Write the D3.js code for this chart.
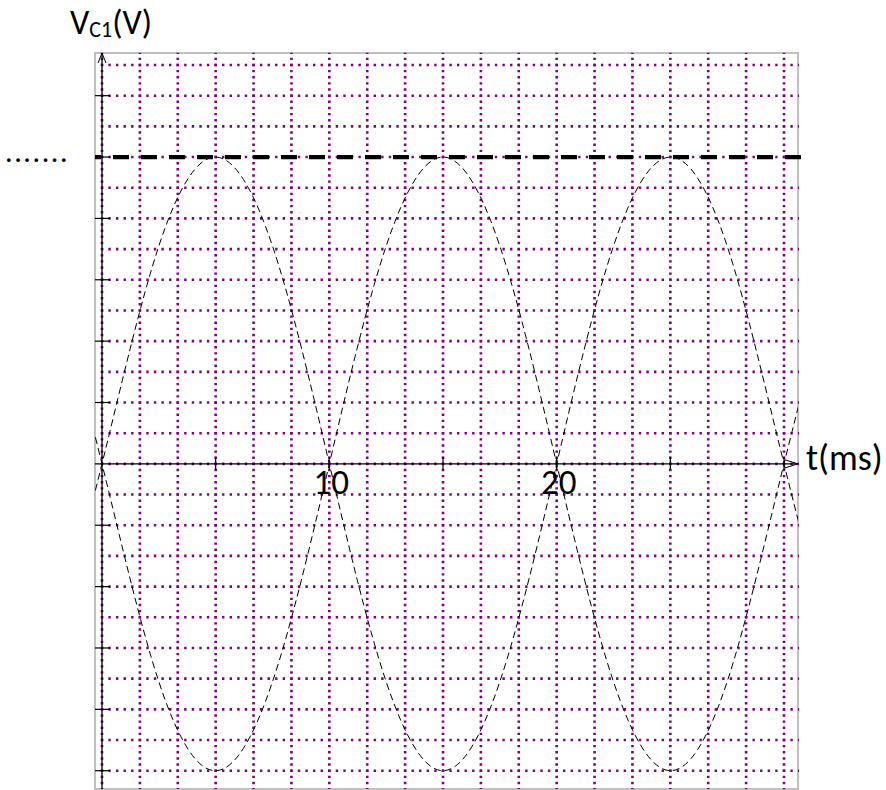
<!DOCTYPE html>
<html>
<head>
<meta charset="utf-8">
<script src="https://cdn.jsdelivr.net/npm/d3@7"></script>
<style>
    body { margin: 0; background: #fff; }
    svg { display: block; }
</style>
</head>
<body>
<div class="chartContainer"></div>
<script>
//Colors
var gridColor = "#800080";
var frameColor = "#c0c0c0";
var lineColor = "#000";

//Data (time in ms, voltage in grid units)
var timeMs = [-2.5, 0, 2.5, 5, 7.5, 10, 12.5, 15, 17.5, 20, 22.5, 25, 27.5, 30, 32.5];
var vRising = [-7.1, 0, 7.1, 10, 7.1, 0, -7.1, -10, -7.1, 0, 7.1, 10, 7.1, 0, -7.1];
var vFalling = [7.1, 0, -7.1, -10, -7.1, 0, 7.1, 10, 7.1, 0, -7.1, -10, -7.1, 0, 7.1];
var peakLevel = 10;
var xTickValues = [5, 10, 15, 20, 25, 30];
var xTickLabels = ["10", "20"];
var yTickValues = [-10, -8, -6, -4, -2, 2, 4, 6, 8, 10, 12];

var width = 886, height = 790;
var frame = { left: 95, right: 798, top: 53, bottom: 789 };

var x = d3.scaleLinear().domain([0, 30]).range([102, 784]);
var y = d3.scaleLinear().domain([-10, 13]).range([770.7, 65]);

var svg = d3.select(".chartContainer").append("svg")
    .attr("width", width)
    .attr("height", height);

svg.append("defs").append("clipPath").attr("id", "plotClip")
    .append("rect")
    .attr("x", frame.left).attr("y", frame.top)
    .attr("width", frame.right - frame.left)
    .attr("height", frame.bottom - frame.top);

//Frame
svg.append("rect")
    .attr("x", frame.left).attr("y", frame.top)
    .attr("width", frame.right - frame.left)
    .attr("height", frame.bottom - frame.top)
    .style("fill", "none")
    .style("stroke", frameColor)
    .style("stroke-width", 2);

//Dotted grid, five dots per cell
var cellX = x(10 / 6) - x(0);
var cellY = y(0) - y(1);
var xGrid = d3.range(0, 19).map((k) => k * 10 / 6);
var yGrid = d3.range(-10, 14);

svg.append("g").selectAll("line").data(xGrid).enter().append("line")
    .attr("x1", (d) => x(d)).attr("x2", (d) => x(d))
    .attr("y1", (d) => y(13) - 2 * cellY / 5)
    .attr("y2", frame.bottom)
    .style("stroke", gridColor)
    .style("stroke-width", 2.6)
    .style("stroke-dasharray", "2.4," + (cellY / 5 - 2.4))
    .style("stroke-dashoffset", 1.2);

svg.append("g").selectAll("line").data(yGrid).enter().append("line")
    .attr("y1", (d) => y(d)).attr("y2", (d) => y(d))
    .attr("x1", x(0))
    .attr("x2", frame.right + 1)
    .style("stroke", gridColor)
    .style("stroke-width", 2.6)
    .style("stroke-dasharray", "2.4," + (cellX / 5 - 2.4))
    .style("stroke-dashoffset", 1.2);

//Axes
svg.append("line")
    .attr("x1", frame.left).attr("x2", frame.right)
    .attr("y1", y(0)).attr("y2", y(0))
    .style("stroke", lineColor).style("stroke-width", 1.3);
svg.append("line")
    .attr("x1", x(0)).attr("x2", x(0))
    .attr("y1", frame.top).attr("y2", frame.bottom)
    .style("stroke", lineColor).style("stroke-width", 1.3);

//Arrow heads
svg.append("path")
    .attr("d", "M" + (frame.right - 13) + "," + (y(0) - 4) + "L" + frame.right + "," + y(0) + "L" + (frame.right - 13) + "," + (y(0) + 4))
    .style("fill", "none").style("stroke", lineColor).style("stroke-width", 1);
svg.append("path")
    .attr("d", "M" + (x(0) - 4) + "," + (frame.top + 10) + "L" + x(0) + "," + frame.top + "L" + (x(0) + 4) + "," + (frame.top + 10))
    .style("fill", "none").style("stroke", lineColor).style("stroke-width", 1);

//Ticks
svg.append("g").selectAll("line").data(xTickValues).enter().append("line")
    .attr("x1", (d) => x(d)).attr("x2", (d) => x(d))
    .attr("y1", y(0) - 7).attr("y2", y(0) + 6)
    .style("stroke", lineColor).style("stroke-width", 1.2);
svg.append("g").selectAll("line").data(yTickValues).enter().append("line")
    .attr("y1", (d) => y(d)).attr("y2", (d) => y(d))
    .attr("x1", x(0) - 7).attr("x2", x(0) + 8)
    .style("stroke", lineColor).style("stroke-width", 1.2);

//Sine curves
var line = d3.line()
    .x((d) => x(d[0]))
    .y((d) => y(d[1]))
    .curve(d3.curveNatural);

var curves = svg.append("g").attr("clip-path", "url(#plotClip)");
[vRising, vFalling].forEach((vals) => {
    curves.append("path")
        .datum(timeMs.map((t, i) => [t, vals[i]]))
        .attr("d", line)
        .style("fill", "none")
        .style("stroke", lineColor)
        .style("stroke-width", 1)
        .style("stroke-dasharray", "7,4");
});

//Peak level
svg.append("line")
    .attr("x1", frame.left).attr("x2", frame.right + 3)
    .attr("y1", y(peakLevel)).attr("y2", y(peakLevel))
    .style("stroke", lineColor)
    .style("stroke-width", 4.3)
    .style("stroke-dasharray", "16,12")
    .style("stroke-dashoffset", 10);

//Texts
var fontFamily = "Carlito, Calibri, Lato, sans-serif";

svg.selectAll(".xLabel").data(xTickLabels).enter().append("text")
    .attr("class", "xLabel")
    .text((d) => d)
    .attr("x", (d) => x(+d) + 2)
    .attr("y", 494)
    .attr("text-anchor", "middle")
    .attr("font-family", fontFamily)
    .attr("font-size", "35px")
    .attr("fill", lineColor);

svg.append("text")
    .text("t(ms)")
    .attr("x", 806)
    .attr("y", 470)
    .attr("font-family", fontFamily)
    .attr("font-size", "36px")
    .attr("fill", lineColor);

var yLabel = svg.append("text")
    .attr("x", 70)
    .attr("y", 34)
    .attr("font-family", fontFamily)
    .attr("font-size", "34px")
    .attr("fill", lineColor);
yLabel.append("tspan").text("V");
yLabel.append("tspan").text("C1").attr("font-size", "22px").attr("dy", 3);
yLabel.append("tspan").text("(V)").attr("dy", -3);

svg.append("text")
    .text(".......")
    .attr("x", 5)
    .attr("y", 162)
    .attr("font-family", fontFamily)
    .attr("font-size", "30px")
    .attr("letter-spacing", "1.6px")
    .attr("fill", lineColor);
</script>
</body>
</html>
